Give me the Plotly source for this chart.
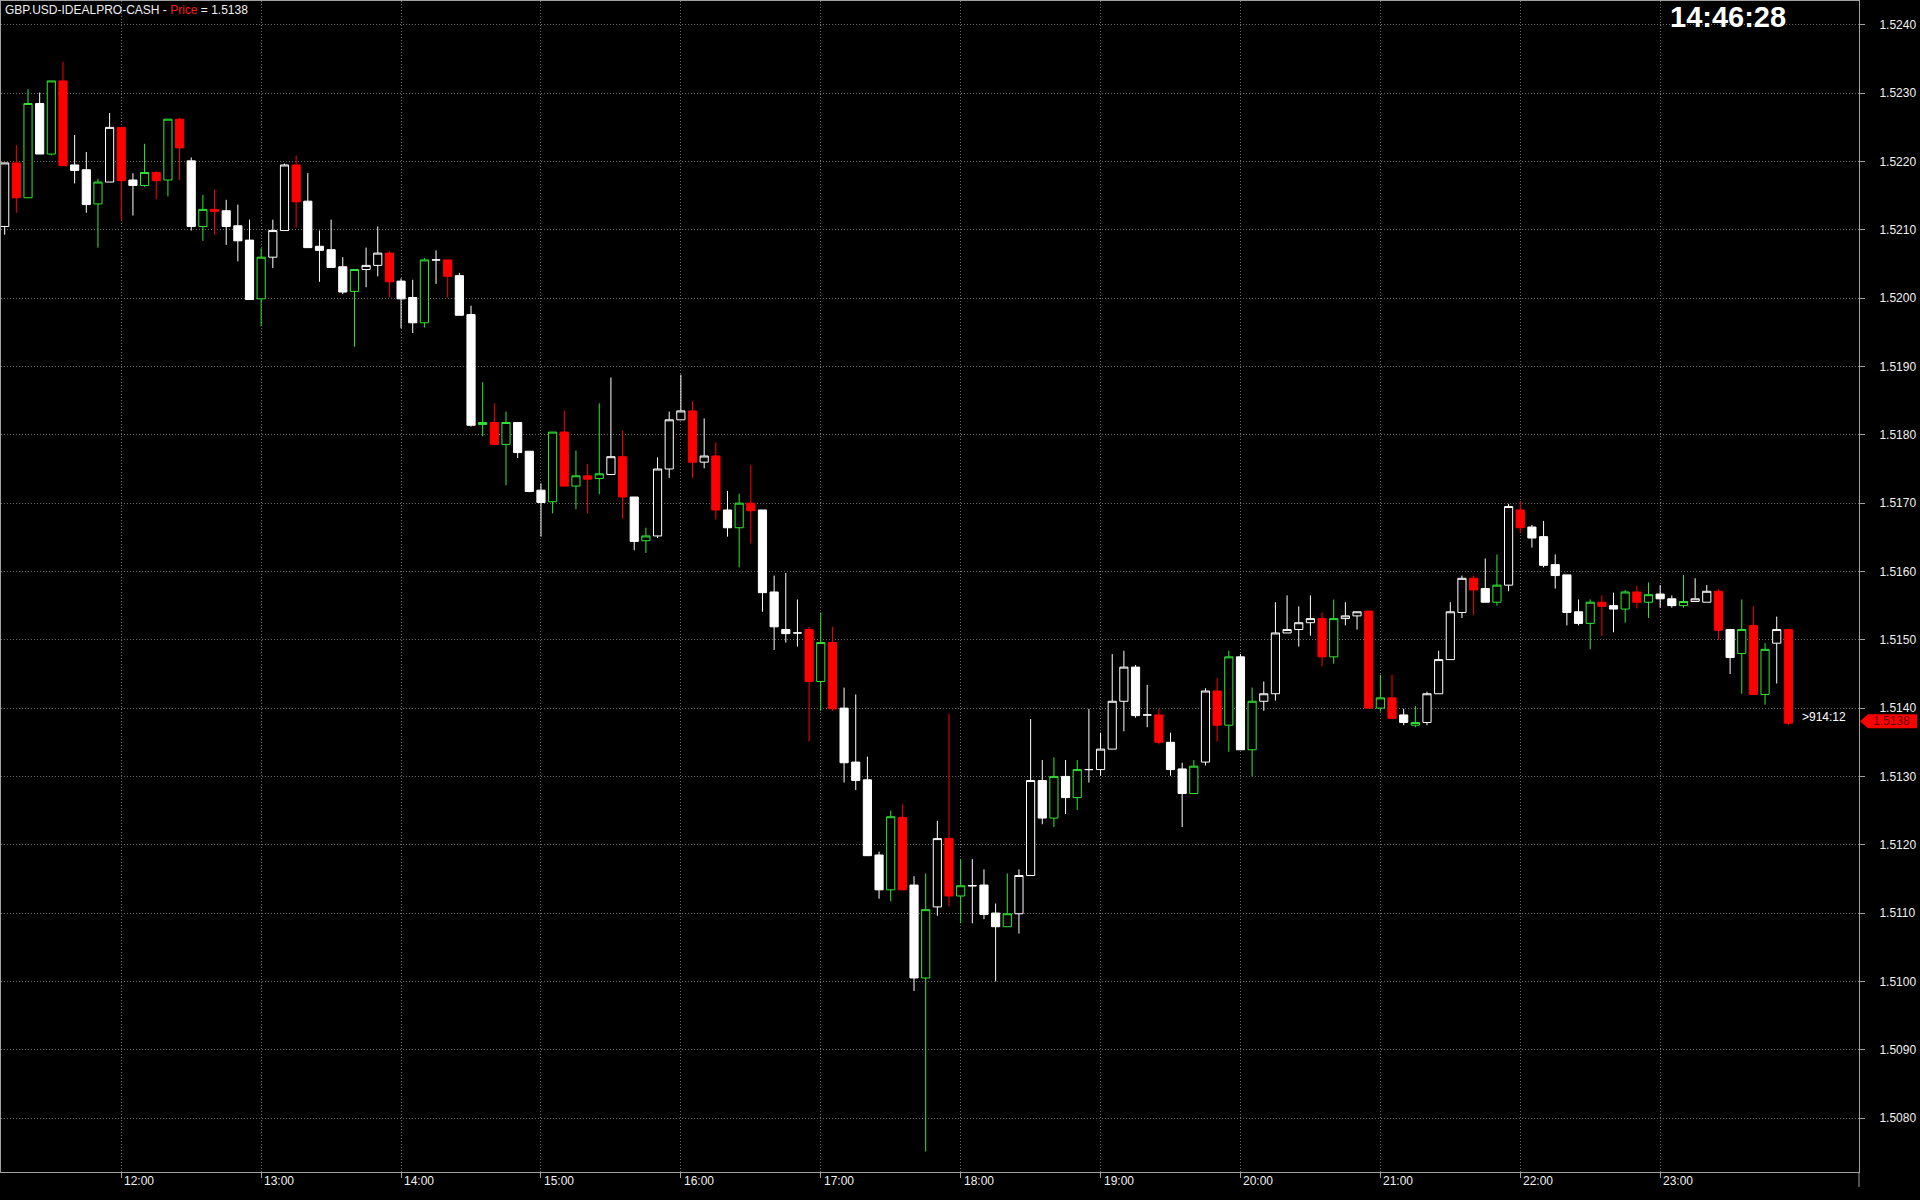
import pandas as pd
import plotly.graph_objects as go

# GBP.USD 5 minute bars, first bar at 11:10
first_bar = "2013-09-27 11:10"

bar_open = [
    1.52105, 1.52198, 1.52147, 1.52285, 1.52211, 1.52318, 1.52195, 1.52188, 1.52138, 1.52170,
    1.52250, 1.52173, 1.52165, 1.52184, 1.52173, 1.52262, 1.52201, 1.52105, 1.52130, 1.52128,
    1.52106, 1.52085, 1.51999, 1.52060, 1.52099, 1.52195, 1.52142, 1.52076, 1.52071, 1.52046,
    1.52010, 1.52042, 1.52048, 1.52066, 1.52025, 1.52001, 1.51964, 1.52056, 1.52056, 1.52033,
    1.51976, 1.51815, 1.51818, 1.51786, 1.51818, 1.51776, 1.51719, 1.51702, 1.51804, 1.51725,
    1.51740, 1.51736, 1.51742, 1.51768, 1.51709, 1.51645, 1.51652, 1.51750, 1.51822, 1.51835,
    1.51760, 1.51769, 1.51690, 1.51664, 1.51700, 1.51690, 1.51570, 1.51515, 1.51510, 1.51515,
    1.51439, 1.51496, 1.51400, 1.51321, 1.51295, 1.51185, 1.51134, 1.51240, 1.51141, 1.51005,
    1.51109, 1.51209, 1.51125, 1.51140, 1.51141, 1.51100, 1.51080, 1.51099, 1.51155, 1.51294,
    1.51239, 1.51300, 1.51269, 1.51310, 1.51310, 1.51340, 1.51410, 1.51460, 1.51390, 1.51390,
    1.51350, 1.51311, 1.51275, 1.51321, 1.51425, 1.51375, 1.51475, 1.51339, 1.51410, 1.51421,
    1.51510, 1.51515, 1.51525, 1.51531, 1.51475, 1.51531, 1.51535, 1.51542, 1.51400, 1.51415,
    1.51390, 1.51375, 1.51379, 1.51421, 1.51471, 1.51540, 1.51590, 1.51575, 1.51555, 1.51580,
    1.51690, 1.51665, 1.51651, 1.51610, 1.51595, 1.51541, 1.51524, 1.51555, 1.51550, 1.51545,
    1.51570, 1.51555, 1.51567, 1.51560, 1.51550, 1.51556, 1.51555, 1.51571, 1.51515, 1.51480,
    1.51521, 1.51420, 1.51495, 1.51515,
]
bar_high = [
    1.52198, 1.52224, 1.52306, 1.52301, 1.52318, 1.52346, 1.52239, 1.52214, 1.52175, 1.52271,
    1.52250, 1.52183, 1.52226, 1.52186, 1.52262, 1.52264, 1.52206, 1.52151, 1.52159, 1.52144,
    1.52137, 1.52115, 1.52073, 1.52115, 1.52197, 1.52209, 1.52183, 1.52099, 1.52115, 1.52060,
    1.52042, 1.52074, 1.52105, 1.52069, 1.52029, 1.52027, 1.52059, 1.52070, 1.52056, 1.52037,
    1.51989, 1.51877, 1.51846, 1.51834, 1.51818, 1.51776, 1.51729, 1.51804, 1.51836, 1.51777,
    1.51757, 1.51846, 1.51884, 1.51806, 1.51709, 1.51664, 1.51767, 1.51834, 1.51888, 1.51849,
    1.51824, 1.51789, 1.51718, 1.51714, 1.51756, 1.51690, 1.51594, 1.51598, 1.51559, 1.51519,
    1.51540, 1.51519, 1.51430, 1.51420, 1.51329, 1.51190, 1.51250, 1.51259, 1.51154, 1.51158,
    1.51235, 1.51392, 1.51179, 1.51179, 1.51164, 1.51114, 1.51158, 1.51164, 1.51384, 1.51324,
    1.51328, 1.51324, 1.51324, 1.51399, 1.51364, 1.51479, 1.51484, 1.51463, 1.51434, 1.51399,
    1.51364, 1.51320, 1.51324, 1.51429, 1.51444, 1.51484, 1.51479, 1.51430, 1.51439, 1.51555,
    1.51565, 1.51549, 1.51565, 1.51540, 1.51559, 1.51555, 1.51541, 1.51542, 1.51449, 1.51449,
    1.51399, 1.51403, 1.51424, 1.51484, 1.51555, 1.51594, 1.51594, 1.51619, 1.51625, 1.51699,
    1.51703, 1.51668, 1.51674, 1.51625, 1.51595, 1.51559, 1.51559, 1.51565, 1.51569, 1.51573,
    1.51579, 1.51584, 1.51580, 1.51565, 1.51595, 1.51590, 1.51580, 1.51574, 1.51515, 1.51559,
    1.51549, 1.51495, 1.51534, 1.51515,
]
bar_low = [
    1.52093, 1.52125, 1.52147, 1.52211, 1.52209, 1.52194, 1.52168, 1.52125, 1.52074, 1.52170,
    1.52114, 1.52121, 1.52163, 1.52145, 1.52149, 1.52173, 1.52099, 1.52084, 1.52093, 1.52078,
    1.52054, 1.51998, 1.51959, 1.52044, 1.52099, 1.52103, 1.52074, 1.52024, 1.52045, 1.52006,
    1.51929, 1.52016, 1.52032, 1.52001, 1.51956, 1.51949, 1.51957, 1.52021, 1.52001, 1.51975,
    1.51812, 1.51798, 1.51786, 1.51726, 1.51766, 1.51716, 1.51651, 1.51685, 1.51725, 1.51691,
    1.51685, 1.51713, 1.51741, 1.51677, 1.51631, 1.51627, 1.51649, 1.51737, 1.51822, 1.51737,
    1.51751, 1.51676, 1.51651, 1.51606, 1.51641, 1.51541, 1.51485, 1.51496, 1.51490, 1.51351,
    1.51396, 1.51396, 1.51291, 1.51280, 1.51184, 1.51121, 1.51117, 1.51134, 1.50986, 1.50751,
    1.51096, 1.51110, 1.51085, 1.51085, 1.51091, 1.51000, 1.51080, 1.51070, 1.51155, 1.51230,
    1.51226, 1.51245, 1.51251, 1.51291, 1.51301, 1.51340, 1.51366, 1.51386, 1.51372, 1.51347,
    1.51301, 1.51226, 1.51275, 1.51316, 1.51351, 1.51336, 1.51339, 1.51300, 1.51396, 1.51411,
    1.51510, 1.51490, 1.51506, 1.51461, 1.51465, 1.51521, 1.51515, 1.51400, 1.51395, 1.51385,
    1.51375, 1.51372, 1.51375, 1.51421, 1.51471, 1.51532, 1.51536, 1.51555, 1.51550, 1.51571,
    1.51656, 1.51635, 1.51606, 1.51575, 1.51521, 1.51521, 1.51486, 1.51506, 1.51511, 1.51525,
    1.51546, 1.51532, 1.51547, 1.51547, 1.51547, 1.51556, 1.51555, 1.51500, 1.51450, 1.51421,
    1.51420, 1.51405, 1.51436, 1.51375,
]
bar_close = [
    1.52198, 1.52147, 1.52285, 1.52211, 1.52318, 1.52194, 1.52187, 1.52137, 1.52170, 1.52250,
    1.52172, 1.52165, 1.52184, 1.52172, 1.52262, 1.52220, 1.52105, 1.52130, 1.52127, 1.52105,
    1.52084, 1.51998, 1.52060, 1.52099, 1.52195, 1.52141, 1.52074, 1.52070, 1.52045, 1.52009,
    1.52042, 1.52048, 1.52066, 1.52024, 1.51999, 1.51964, 1.52056, 1.52056, 1.52032, 1.51975,
    1.51814, 1.51818, 1.51786, 1.51818, 1.51774, 1.51717, 1.51701, 1.51804, 1.51725, 1.51740,
    1.51735, 1.51743, 1.51768, 1.51709, 1.51644, 1.51652, 1.51750, 1.51822, 1.51835, 1.51760,
    1.51769, 1.51690, 1.51664, 1.51700, 1.51689, 1.51569, 1.51519, 1.51509, 1.51510, 1.51439,
    1.51496, 1.51399, 1.51320, 1.51294, 1.51184, 1.51134, 1.51241, 1.51134, 1.51005, 1.51105,
    1.51209, 1.51125, 1.51140, 1.51140, 1.51098, 1.51080, 1.51099, 1.51155, 1.51294, 1.51239,
    1.51300, 1.51269, 1.51310, 1.51310, 1.51340, 1.51410, 1.51460, 1.51389, 1.51390, 1.51350,
    1.51310, 1.51275, 1.51315, 1.51425, 1.51375, 1.51475, 1.51339, 1.51410, 1.51421, 1.51510,
    1.51515, 1.51525, 1.51531, 1.51475, 1.51531, 1.51535, 1.51541, 1.51400, 1.51415, 1.51385,
    1.51379, 1.51379, 1.51421, 1.51471, 1.51541, 1.51590, 1.51573, 1.51555, 1.51580, 1.51695,
    1.51664, 1.51649, 1.51609, 1.51594, 1.51540, 1.51524, 1.51555, 1.51549, 1.51545, 1.51570,
    1.51555, 1.51566, 1.51560, 1.51550, 1.51556, 1.51560, 1.51571, 1.51514, 1.51474, 1.51515,
    1.51420, 1.51486, 1.51515, 1.51378,
]
# colour the chart gave each bar: w = white, g = green, r = red
bar_colour = list(
    "wrgwgrwwgw" "rwgrgrwgrw" "wwgwwrwwww" "gwwrwwgwrw" "wgrgwwwgrg"
    "rgwrwgwwwr" "wrwgrwwwwr" "grwwwwgrwg" "wrgwwwgwww" "gwgwwwwwwr"
    "wwgwrgwgww" "wwwrgwwrgr" "wgwwwwrwgw" "rwwwwwgrwg" "rgwwgwwrwg"
    "rgwr"
)

symbol = "GBP.USD-IDEALPRO-CASH"
clock_text = "14:46:28"
countdown_text = ">914:12"

bar_time = pd.date_range(first_bar, periods=len(bar_open), freq="5min")
df = pd.DataFrame({"time": bar_time, "open": bar_open, "high": bar_high,
                   "low": bar_low, "close": bar_close, "colour": bar_colour})

styles = {
    "w": "#ffffff",
    "g": "#33e633",
    "r": "#ff0000",
}

fig = go.Figure()
for key, col in styles.items():
    part = df[df["colour"] == key]
    fig.add_trace(go.Candlestick(
        x=part["time"], open=part["open"], high=part["high"],
        low=part["low"], close=part["close"],
        whiskerwidth=0,
        increasing=dict(line=dict(color=col, width=1), fillcolor="#000000"),
        decreasing=dict(line=dict(color=col, width=1), fillcolor=col),
        showlegend=False, hoverinfo="skip",
    ))

hours = df[df["time"].dt.minute == 0]["time"]
last_close = df["close"].iloc[-1]
last_time = df["time"].iloc[-1]

font_name = "Liberation Sans, Arial, sans-serif"
grid_col = "#6e6e6e"
axis_col = "#a0a0a0"
text_col = "#f0f0f0"

fig.update_layout(
    width=1920, height=1200,
    margin=dict(l=1, r=61, t=1, b=28, pad=0),
    paper_bgcolor="#000000", plot_bgcolor="#000000",
    boxgap=0.3, boxgroupgap=0,
    font=dict(family=font_name, size=12, color=text_col),
    xaxis=dict(
        type="date",
        range=["2013-09-27 11:08:25", "2013-09-28 00:25:17"],
        rangeslider=dict(visible=False),
        tickvals=list(hours), showticklabels=False,
        ticks="outside", ticklen=5, tickcolor=axis_col,
        showgrid=True, gridcolor=grid_col, gridwidth=1, griddash="1px,2px",
        showline=True, linecolor=axis_col, linewidth=1, mirror=True,
        zeroline=False, fixedrange=True,
    ),
    yaxis=dict(
        side="right",
        range=[1.50721, 1.52435],
        dtick=0.001, tick0=1.5, tickformat=".4f",
        ticks="outside", ticklen=5, tickcolor=axis_col,
        ticklabelstandoff=12,
        tickfont=dict(family=font_name, size=12, color=text_col),
        showgrid=True, gridcolor=grid_col, gridwidth=1, griddash="1px,2px",
        showline=True, linecolor=axis_col, linewidth=1, mirror=True,
        zeroline=False, automargin=False, fixedrange=True,
    ),
)

# hour labels sit just right of their tick
for t in hours:
    fig.add_annotation(
        x=t, xref="x", y=0, yref="paper", text=t.strftime("%H:%M"),
        showarrow=False, xanchor="left", yanchor="top", xshift=1, yshift=0,
        font=dict(family=font_name, size=12, color=text_col),
    )

# title line
fig.add_annotation(
    x=0, xref="paper", y=1, yref="paper", xanchor="left", yanchor="top",
    xshift=2, yshift=0, showarrow=False,
    text=f"{symbol} - <span style='color:#ff1a1a'>Price</span> = {last_close:.4f}",
    font=dict(family=font_name, size=12, color=text_col),
)

# clock
fig.add_annotation(
    x=(1728 - 1) / 1858, xref="paper", y=1, yref="paper", showarrow=False,
    xanchor="center", yanchor="top", yshift=2,
    text=f"<b>{clock_text}</b>",
    font=dict(family=font_name, size=29, color="#ffffff"),
)

# bar countdown next to the last bar
fig.add_annotation(
    x=last_time, xref="x", y=last_close, yref="y", showarrow=False,
    xanchor="left", yanchor="middle", xshift=12, yshift=6,
    text=countdown_text,
    font=dict(family=font_name, size=12, color="#ffffff"),
)

# last price tag on the price axis
fig.add_shape(
    type="path", xref="paper", yref="y",
    xsizemode="pixel", ysizemode="pixel", xanchor=1, yanchor=last_close,
    path="M 1 2 L 9 9 L 58 9 L 58 -5 L 9 -5 Z",
    fillcolor="#ff0000", line=dict(width=0), layer="above",
)
fig.add_annotation(
    x=1, xref="paper", y=last_close, yref="y", showarrow=False,
    xanchor="center", yanchor="middle", xshift=32, yshift=2,
    text=f"{last_close:.4f}",
    font=dict(family=font_name, size=12, color="#6a0000"),
)

# price axis line runs a little past the bottom border
fig.add_shape(
    type="line", xref="paper", yref="paper", ysizemode="pixel", yanchor=0,
    x0=1, x1=1, y0=0, y1=-15, line=dict(color=axis_col, width=1),
)

# the page should hold the figure flush with its top-left corner
fig.write_html("out.html", config={"displayModeBar": False},
               post_script="document.body.style.margin='0';")
